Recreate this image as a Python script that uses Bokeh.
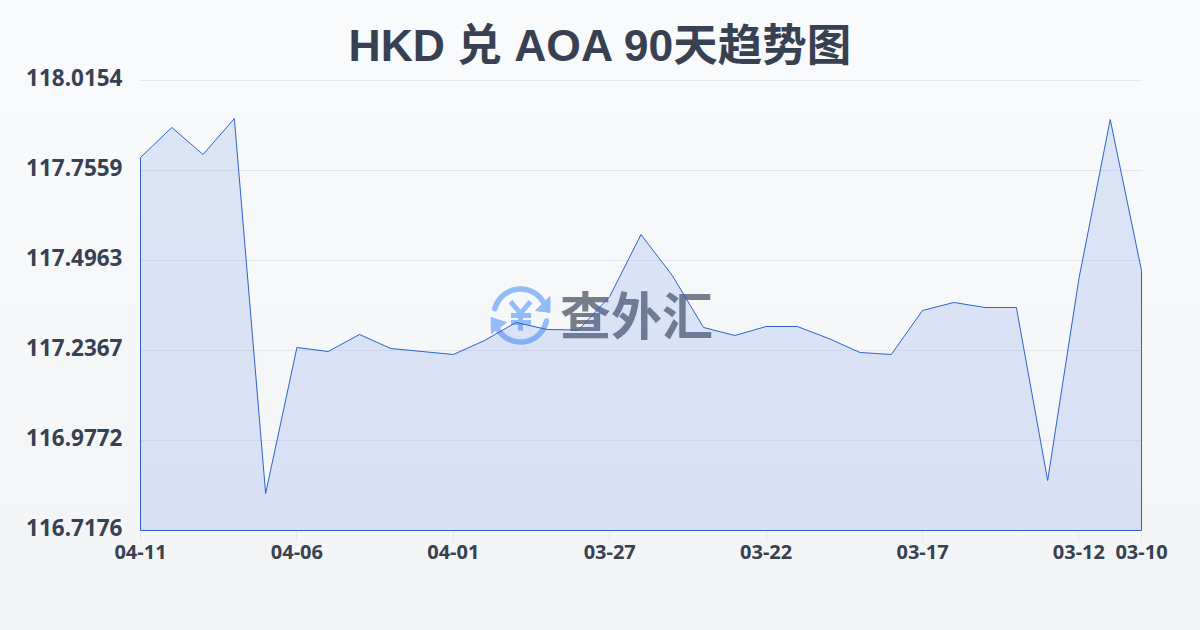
from bokeh.plotting import figure
from bokeh.models import Range1d, FixedTicker, NumeralTickFormatter, Label, LinearAxis
from bokeh.embed import file_html
from bokeh.resources import INLINE
import numpy as np

dates = ["04-11", "04-06", "04-01", "03-27", "03-22", "03-17", "03-12", "03-10"]
date_positions = [0, 5, 10, 15, 20, 25, 30, 32]
y_ticks = [118.0154, 117.7559, 117.4963, 117.2367, 116.9772, 116.7176]
rates = [117.7933, 117.8799, 117.8020, 117.9058, 116.8243, 117.2454, 117.2338, 117.2829,
         117.2425, 117.2338, 117.2252, 117.2656, 117.3175, 117.2973, 117.2959, 117.3925,
         117.5713, 117.4530, 117.3031, 117.2800, 117.3059, 117.3059, 117.2713, 117.2310,
         117.2252, 117.3521, 117.3752, 117.3607, 117.3607, 116.8618, 117.4444, 117.9029, 117.4674]
title_text = "HKD 兑 AOA 90天趋势图"
watermark_text = "查外汇"

INK = "#374151"
LINE = "#2f62c9"
LOGO = "#93bbf8"

# page pixel -> data helpers (for decoration only)
def fx(sx):
    return (sx - 140) / (1001 / 32)
def fy(sy):
    return y_ticks[0] - (sy - 80) * (y_ticks[0] - y_ticks[-1]) / 450

p = figure(width=1200, height=630, output_backend="svg", toolbar_location=None,
           x_range=Range1d(fx(139), fx(1142)), y_range=Range1d(fy(531), fy(70)),
           min_border_left=139, min_border_right=58, min_border_top=70, min_border_bottom=99,
           border_fill_color=None, background_fill_color=None, outline_line_color=None)

# watermark logo, beneath the area and its line
def arc(a0, a1, r=26.5):
    t = np.radians(np.linspace(a0, a1, 40))
    return fx(520 + r * np.cos(t)), fy(315 - r * np.sin(t))
ax, ay = arc(165, 32)
p.line(ax, ay, line_color=LOGO, line_width=5.5, line_cap="round")
ax, ay = arc(-12, -155)
p.line(ax, ay, line_color=LOGO, line_width=5.5, line_cap="round")
p.patch(fx(np.array([549.5, 549.5, 535])), fy(np.array([296, 312, 310])), fill_color=LOGO, line_color=LOGO)
p.patch(fx(np.array([490.5, 491, 506])), fy(np.array([317, 333, 322])), fill_color=LOGO, line_color=LOGO)
for sx, sy in [([510, 520, 530], [301, 313, 301]), ([510.5, 530.5], [315, 315]),
               ([510.5, 530.5], [322, 322]), ([520, 520], [313, 330])]:
    p.line(fx(np.array(sx, float)), fy(np.array(sy, float)), line_color=LOGO, line_width=5)
p.add_layout(Label(x=fx(636), y=fy(312), text=watermark_text, text_font="Noto Sans CJK SC",
                   text_font_style="bold", text_font_size="51px", text_color="#6b7280",
                   text_alpha=0.92, text_align="center", text_baseline="middle", level="underlay"))

xs = list(range(len(rates)))
base = y_ticks[-1]
poly_x = [0] + xs + [xs[-1]]
poly_y = [base] + rates + [base]
p.patch(poly_x, poly_y, fill_color="#3a6fe0", fill_alpha=0.15, line_color=LINE, line_width=1)

# title
p.title.text = title_text
p.title.align = "left"
p.title.offset = 209
p.title.text_font = "Liberation Sans, Noto Sans CJK SC"
p.title.text_font_style = "bold"
p.title.text_font_size = "44.5px"
p.title.text_color = INK
p.title.standoff = 1

# axes
p.xgrid.visible = False
p.ygrid.ticker = FixedTicker(ticks=y_ticks)
p.ygrid.grid_line_color = "#e5e7eb"
p.ygrid.grid_line_width = 1

p.xaxis.ticker = FixedTicker(ticks=date_positions)
p.xaxis.major_label_overrides = dict(zip(date_positions, dates))
p.xaxis.axis_line_color = None
p.xaxis.major_tick_line_color = "#e5e7eb"
p.xaxis.major_tick_in = 0
p.xaxis.major_tick_out = 10
p.xaxis.minor_tick_line_color = None
p.xaxis.major_label_standoff = 3
p.xaxis.major_label_text_font = "Noto Sans"
p.xaxis.major_label_text_font_style = "bold"
p.xaxis.major_label_text_font_size = "20px"
p.xaxis.major_label_text_color = INK

# the tick labels sit 3px above their grid lines, so they use a shifted scale
p.yaxis.visible = False
p.extra_y_ranges = {"labels": Range1d(fy(534), fy(73))}
label_axis = LinearAxis(y_range_name="labels", ticker=FixedTicker(ticks=y_ticks),
                        formatter=NumeralTickFormatter(format="0.0000"),
                        axis_line_color=None, major_tick_line_color=None, minor_tick_line_color=None,
                        major_tick_in=0, major_tick_out=0, major_label_standoff=17,
                        major_label_text_font="Noto Sans", major_label_text_font_style="bold",
                        major_label_text_font_size="22.5px", major_label_text_color=INK)
p.add_layout(label_axis, "left")

html = file_html(p, INLINE)
html = html.replace("<head>", "<head><style>html{height:100%;background:linear-gradient(180deg,#f8fafc,#f3f4f6)}body{background:transparent}</style>", 1)
open("out.html", "w").write(html)
